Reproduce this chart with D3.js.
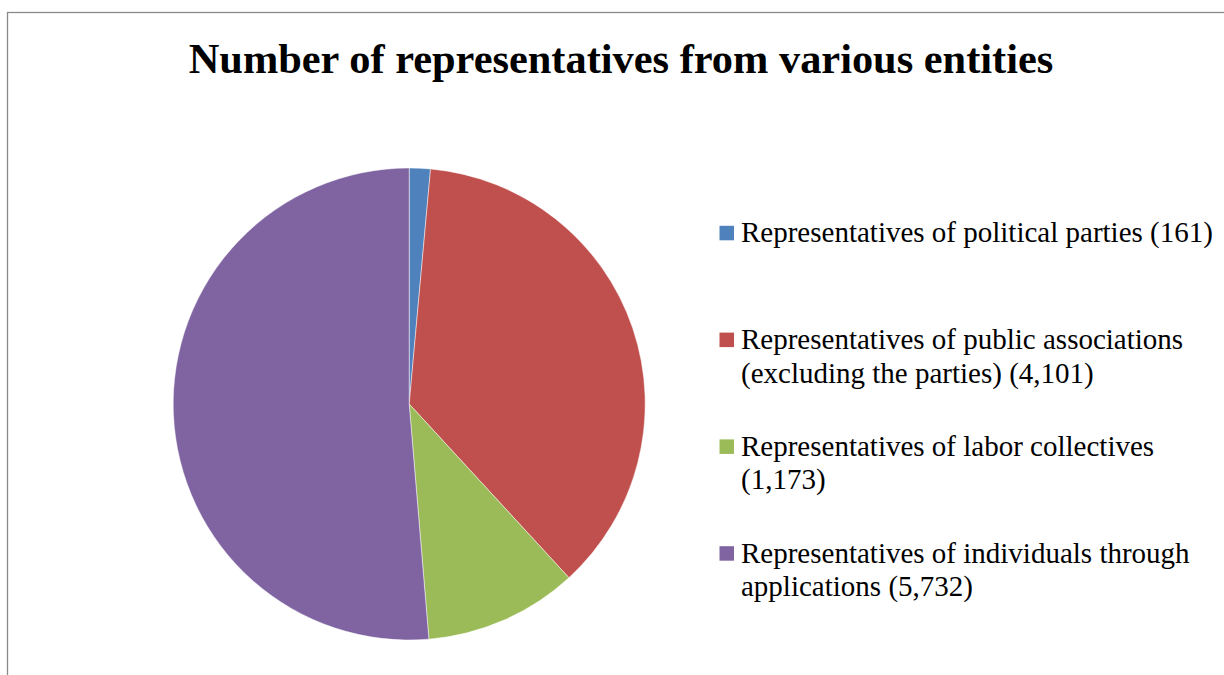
<!DOCTYPE html>
<html>
<head>
<meta charset="utf-8">
<script src="https://cdn.jsdelivr.net/npm/d3@7/dist/d3.min.js"></script>
<style>
  html, body { margin: 0; padding: 0; background: #ffffff; }
  svg { display: block; }
</style>
</head>
<body>
<svg id="chart" width="1224" height="675"></svg>
<script>
// Chart data
const title = "Number of representatives from various entities";
const categories = [
  "Representatives of political parties",
  "Representatives of public associations (excluding the parties)",
  "Representatives of labor collectives",
  "Representatives of individuals through applications"
];
const values = [161, 4101, 1173, 5732];
const colors = ["#4F81BD", "#C0504D", "#9BBB59", "#8064A2"];
// Legend text as wrapped lines
const legendLines = [
  ["Representatives of political parties (161)"],
  ["Representatives of public associations", "(excluding the parties) (4,101)"],
  ["Representatives of labor collectives", "(1,173)"],
  ["Representatives of individuals through", "applications (5,732)"]
];

const svg = d3.select("#chart");
const W = 1224, H = 675;
const serif = "'Liberation Serif', 'Times New Roman', Times, serif";

// Chart area frame (continues past the right and bottom edges)
svg.append("rect")
  .attr("x", 7.5).attr("y", 12.5)
  .attr("width", W + 20).attr("height", H + 20)
  .attr("fill", "#ffffff")
  .attr("stroke", "#8a8a8a")
  .attr("stroke-width", 1.3);

// Title
svg.append("text")
  .attr("x", 621).attr("y", 73)
  .attr("text-anchor", "middle")
  .attr("font-family", serif)
  .attr("font-weight", "bold")
  .attr("font-size", 42.4)
  .attr("fill", "#000")
  .text(title);

// Pie
const cx = 409.2, cy = 404, radius = 236;
const pie = d3.pie().sort(null).value(d => d.value);
const arc = d3.arc().innerRadius(0).outerRadius(radius);
const data = categories.map((c, i) => ({ name: c, value: values[i], color: colors[i] }));

svg.append("g")
  .attr("transform", `translate(${cx},${cy})`)
  .selectAll("path")
  .data(pie(data))
  .join("path")
  .attr("d", arc)
  .attr("fill", d => d.data.color)
  .attr("stroke", "rgba(255,255,255,0.6)")
  .attr("stroke-width", 0.8);

// Legend
const legendX = 719.5, textX = 741, firstBaseline = 242.3, step = 106.8, lineH = 33.5;
const fontSize = 29;
const items = svg.append("g").selectAll("g")
  .data(data)
  .join("g")
  .attr("transform", (d, i) => `translate(0,${firstBaseline + i * step})`);

items.append("rect")
  .attr("x", legendX).attr("y", -16.5)
  .attr("width", 14.5).attr("height", 14.5)
  .attr("fill", d => d.color);

items.append("text")
  .attr("font-family", serif)
  .attr("font-size", fontSize)
  .attr("fill", "#000")
  .selectAll("tspan")
  .data((d, i) => legendLines[i])
  .join("tspan")
  .attr("x", textX)
  .attr("y", (d, j) => j * lineH)
  .text(d => d);
</script>
</body>
</html>
